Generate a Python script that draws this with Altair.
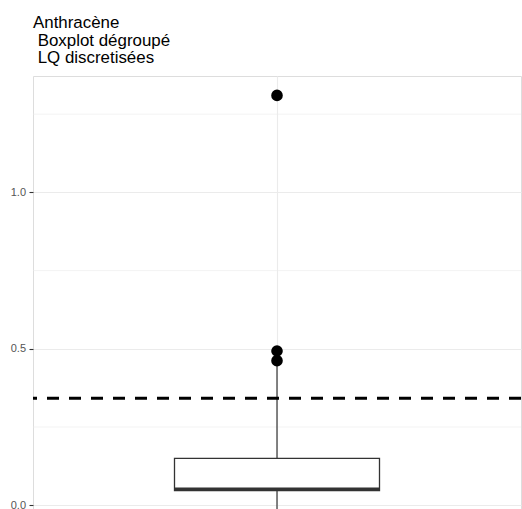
import altair as alt
import pandas as pd

# ---- data ----
category = ["Anthracène"]
lower_whisker = [-0.02]
q1 = [0.047]
median = [0.052]
q3 = [0.150]
upper_whisker = [0.455]
outliers = [1.31, 0.493, 0.462]
lq_threshold = [0.342]
major_ticks = [0.0, 0.5, 1.0]
minor_ticks = [0.25, 0.75, 1.25]
title_lines = ["Anthracène", "\u200b\u00a0Boxplot dégroupé", "\u200b\u00a0LQ discretisées"]

FONT = "Liberation Sans"
DARK = "#333333"
GRID = "#ebebeb"

box_df = pd.DataFrame({"cat": category, "pos": [1] * len(category), "lw": lower_whisker,
                       "q1": q1, "med": median, "q3": q3, "uw": upper_whisker})
out_df = pd.DataFrame({"pos": [1] * len(outliers), "value": outliers})
lq_df = pd.DataFrame({"value": lq_threshold})
minor_df = pd.DataFrame({"value": minor_ticks})

xscale = alt.Scale(domain=[0.4, 1.6], nice=False, zero=False)
yscale = alt.Scale(domain=[-0.012, 1.372], nice=False, zero=False)

xax = alt.Axis(values=[1], labels=False, ticks=False, domain=False, title=None,
               grid=True, gridColor=GRID, gridWidth=1.1)
yax = alt.Axis(values=major_ticks, format=".1f", title=None, domain=False,
               labelColor="#555555", labelFont=FONT, labelFontSize=11, labelPadding=3.5,
               tickColor=DARK, tickSize=4, tickWidth=1.1,
               grid=True, gridColor=GRID, gridWidth=1.1)

minor = alt.Chart(minor_df).mark_rule(color=GRID, strokeWidth=0.6).encode(
    y=alt.Y("value:Q", scale=yscale, axis=yax)
)

whisk_low = alt.Chart(box_df).mark_rule(color=DARK, strokeWidth=1.2, clip=True).encode(
    x=alt.X("pos:Q", scale=xscale, axis=xax),
    y=alt.Y("lw:Q", scale=yscale),
    y2="q1:Q",
)
whisk_up = alt.Chart(box_df).mark_rule(color=DARK, strokeWidth=1.2, clip=True).encode(
    x=alt.X("pos:Q", scale=xscale),
    y=alt.Y("q3:Q", scale=yscale),
    y2="uw:Q",
)
box = alt.Chart(box_df).mark_bar(size=205, fill="white", stroke=DARK, strokeWidth=1.3).encode(
    x=alt.X("pos:Q", scale=xscale),
    y=alt.Y("q1:Q", scale=yscale),
    y2="q3:Q",
)
med = alt.Chart(box_df).mark_tick(orient="horizontal", size=205, thickness=3.2, color=DARK, opacity=1).encode(
    x=alt.X("pos:Q", scale=xscale),
    y=alt.Y("med:Q", scale=yscale),
)
lq = alt.Chart(lq_df).mark_rule(color="black", strokeWidth=2.8, strokeDash=[12, 10]).encode(
    y=alt.Y("value:Q", scale=yscale)
)
pts = alt.Chart(out_df).mark_circle(size=135, color="black", opacity=1).encode(
    x=alt.X("pos:Q", scale=xscale),
    y=alt.Y("value:Q", scale=yscale),
)

chart = alt.layer(minor, whisk_low, whisk_up, box, med, lq, pts).properties(
    width=488,
    height=433,
    autosize=alt.AutoSizeParams(type="none"),
    padding={"left": 33, "top": 76, "right": 1, "bottom": 0},
    title=alt.TitleParams(text=title_lines, anchor="start", frame="group", font=FONT,
                          fontSize=16.9, fontWeight="normal", color="black",
                          lineHeight=17.5, offset=9),
).configure_view(stroke=DARK, strokeWidth=1.1).configure(background="white")

chart.save("out.html", embed_options={"renderer": "svg", "actions": False})
